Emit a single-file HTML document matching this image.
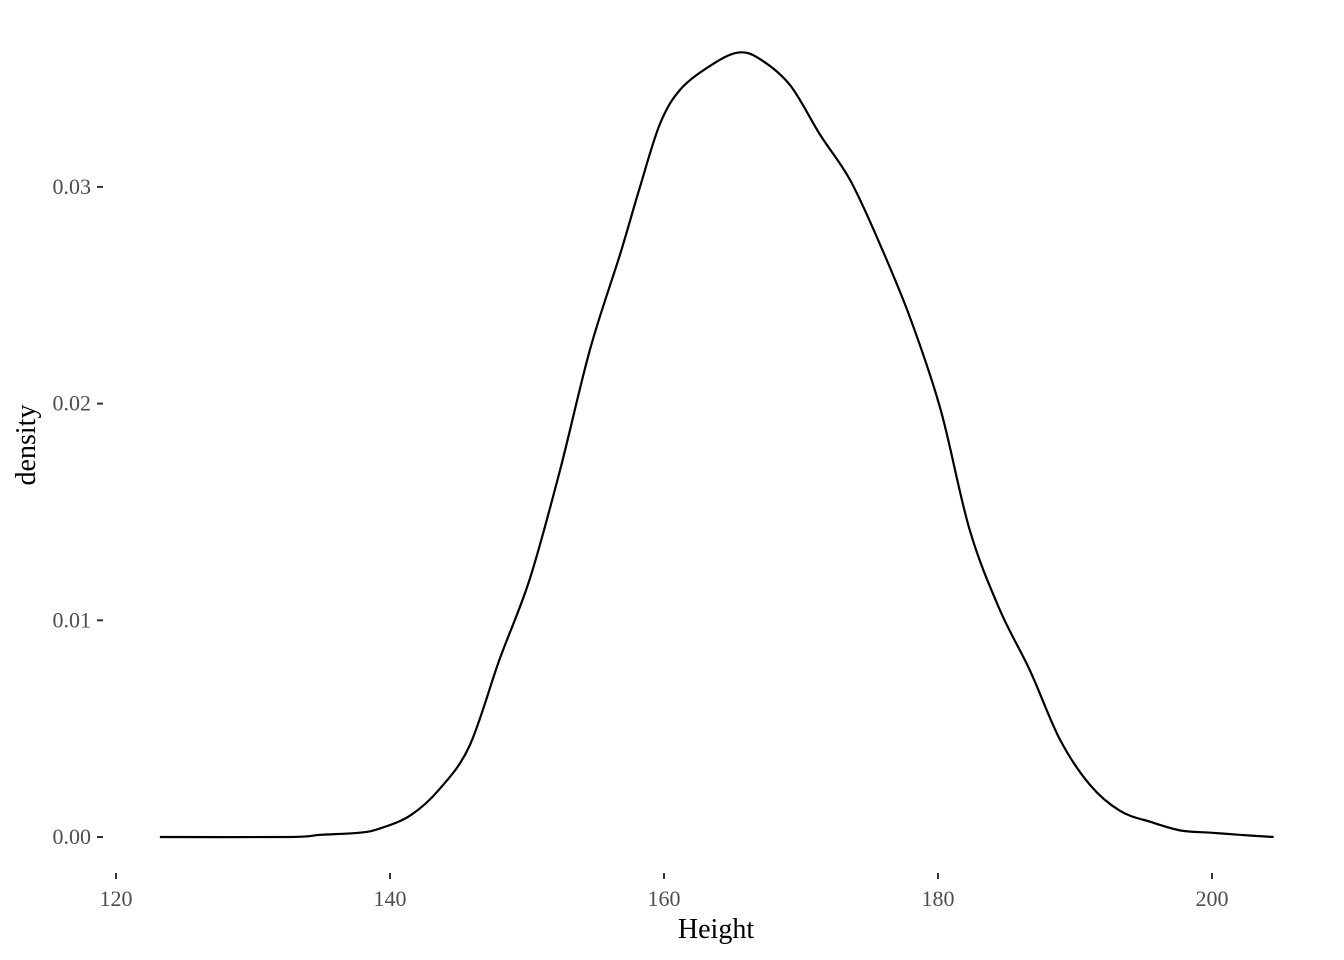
<!DOCTYPE html>
<html><head><meta charset="utf-8">
<style>
html,body{margin:0;padding:0;background:#fff;}
svg{display:block;font-family:"Liberation Serif",serif;}
</style></head>
<body>
<svg id="chart" width="1344" height="960"></svg>
<script>
const heights=[123.2,132.7,134.9,137.8,139.3,141.5,143.6,145.8,148.0,150.2,152.4,154.6,156.8,158.2,159.7,161.2,163.4,165.4,167.0,169.2,171.4,173.6,175.8,178.0,180.2,182.3,184.5,186.7,188.9,191.1,193.3,195.5,197.7,199.9,202.0,204.5];
const densities=[0,0,0.0001,0.0002,0.0004,0.0010,0.0022,0.0042,0.0082,0.0119,0.0169,0.0225,0.0269,0.0299,0.0329,0.0345,0.0356,0.0362,0.0359,0.0347,0.0324,0.0303,0.0273,0.0239,0.0197,0.0142,0.0105,0.0077,0.0045,0.0024,0.0012,0.0007,0.0003,0.0002,0.0001,0];
const xTicks=[120,140,160,180,200];
const xTickLabels=["120","140","160","180","200"];
const yTicks=[0,0.01,0.02,0.03];
const yTickLabels=["0.00","0.01","0.02","0.03"];

const NS="http://www.w3.org/2000/svg";
const svg=document.getElementById('chart');
function X(v){return 116+(v-120)*13.7;}
function Y(v){return 837-v*21670;}
function mk(t,a,txt){const e=document.createElementNS(NS,t);for(const k in a)e.setAttribute(k,a[k]);if(txt!==undefined)e.textContent=txt;svg.appendChild(e);return e;}

xTicks.forEach((t,i)=>{
  const l=mk('line',{x1:X(t),x2:X(t),y1:873,y2:879,stroke:'#333','stroke-width':2});
  
  
  const tx=mk('text',{x:X(t),y:906,'text-anchor':'middle','font-size':22,fill:'#4d4d4d'},xTickLabels[i]);
  
  
});
yTicks.forEach((t,i)=>{
  const l=mk('line',{x1:97,x2:103,y1:Y(t),y2:Y(t),stroke:'#333','stroke-width':2});
  
  
  const tx=mk('text',{x:91,y:Y(t)+7,'text-anchor':'end','font-size':22,fill:'#4d4d4d'},yTickLabels[i]);
  
  
});

const pts=heights.map((h,i)=>[X(h),Y(densities[i])]);
let d='M'+pts[0][0]+','+pts[0][1];
for(let i=0;i<pts.length-1;i++){
  const p0=pts[Math.max(0,i-1)],p1=pts[i],p2=pts[i+1],p3=pts[Math.min(pts.length-1,i+2)];
  const c1=[p1[0]+(p2[0]-p0[0])/6,p1[1]+(p2[1]-p0[1])/6];
  const c2=[p2[0]-(p3[0]-p1[0])/6,p2[1]-(p3[1]-p1[1])/6];
  d+=' C'+c1[0]+','+c1[1]+' '+c2[0]+','+c2[1]+' '+p2[0]+','+p2[1];
}
const path=mk('path',{d:d,fill:'none',stroke:'#000','stroke-width':2.2});



const xt=mk('text',{x:716,y:938,'text-anchor':'middle','font-size':28,fill:'#000'},'Height');


const yt=mk('text',{x:0,y:0,'text-anchor':'middle','font-size':28,fill:'#000',transform:'translate(35,445) rotate(-90)'},'density');


</script>
</body></html>
